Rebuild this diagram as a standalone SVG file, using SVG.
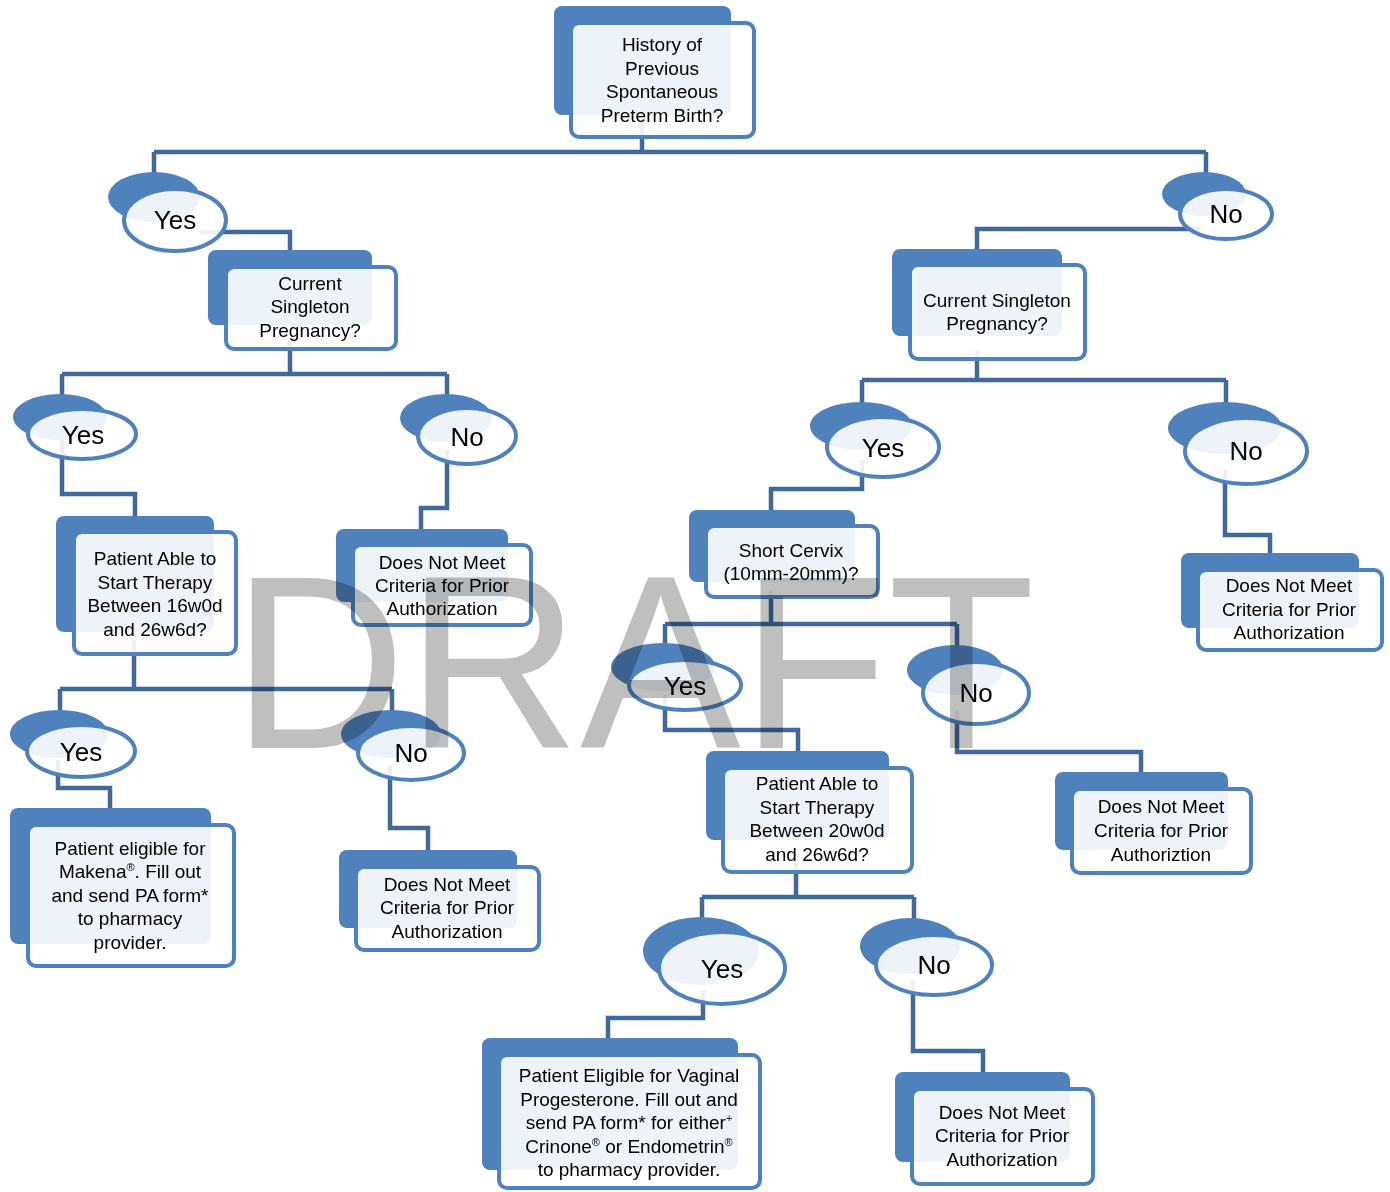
<svg xmlns="http://www.w3.org/2000/svg" width="1390" height="1192" viewBox="0 0 1390 1192">
<style>
.b{fill:#4f81bd}
.f{fill:#ffffff;fill-opacity:0.9;stroke:#4f81bd;stroke-width:4}
.c{fill:none;stroke:#41699c;stroke-width:4.5}
text{font-family:"Liberation Sans",Arial,sans-serif;fill:#000;text-anchor:middle}
.t{font-size:19px}
.e{font-size:26px}
.s{font-size:11px}
.wm{font-size:246px;fill:#bfbfbf;mix-blend-mode:multiply;text-anchor:start}
</style>
<rect width="1390" height="1192" fill="#fff"/>
<g id="connectors">
<path class="c" d="M642 120V152M154 152H1206M154 152V190M1206 152V200"/>
<path class="c" d="M200 232H290V267"/>
<path class="c" d="M1200 229H977V260"/>
<path class="c" d="M290 340V374M62 374H447M62 374V420M447 374V420"/>
<path class="c" d="M62 440V494H135V530"/>
<path class="c" d="M447 450V508H421V540"/>
<path class="c" d="M134 640V689M60 689H392M60 689V740M392 689V740"/>
<path class="c" d="M58 760V788H110V820"/>
<path class="c" d="M390 765V828H428V860"/>
<path class="c" d="M977 350V380M862 380H1226M862 380V430M1226 380V430"/>
<path class="c" d="M862 460V489H771V520"/>
<path class="c" d="M1225 470V535H1270V560"/>
<path class="c" d="M771 590V624M665 624H957M665 624V680M957 624V680"/>
<path class="c" d="M665 695V730H798V760"/>
<path class="c" d="M957 710V752H1141V780"/>
<path class="c" d="M796 860V897M702 897H914M702 897V950M914 897V950"/>
<path class="c" d="M703 990V1018H608V1045"/>
<path class="c" d="M913 980V1051H983V1080"/>
</g>
<g id="n-history"><rect class="b" x="554" y="6" width="177" height="109" rx="8"/><rect class="f" x="571" y="23" width="183" height="114" rx="8"/>
<text class="t" x="662"><tspan x="662" y="51">History of</tspan><tspan x="662" y="75">Previous</tspan><tspan x="662" y="98">Spontaneous</tspan><tspan x="662" y="122">Preterm Birth?</tspan></text></g>
<g id="n-yes1"><ellipse class="b" cx="154" cy="197" rx="46" ry="25"/><ellipse class="f" cx="175" cy="220" rx="51" ry="31"/><text class="e" x="175" y="229">Yes</text></g>
<g id="n-no1"><ellipse class="b" cx="1204" cy="194" rx="42" ry="22"/><ellipse class="f" cx="1226" cy="214" rx="46" ry="25"/><text class="e" x="1226" y="223">No</text></g>
<g id="n-cs-left"><rect class="b" x="208" y="250" width="164" height="75" rx="8"/><rect class="f" x="226" y="267" width="170" height="82" rx="8"/>
<text class="t"><tspan x="310" y="290">Current</tspan><tspan x="310" y="313">Singleton</tspan><tspan x="310" y="337">Pregnancy?</tspan></text></g>
<g id="n-cs-right"><rect class="b" x="892" y="249" width="170" height="87" rx="8"/><rect class="f" x="910" y="265" width="175" height="94" rx="8"/>
<text class="t"><tspan x="997" y="307">Current Singleton</tspan><tspan x="997" y="330">Pregnancy?</tspan></text></g>
<g id="n-yes2"><ellipse class="b" cx="60" cy="417" rx="47" ry="23"/><ellipse class="f" cx="82" cy="434" rx="54" ry="25"/><text class="e" x="83" y="444">Yes</text></g>
<g id="n-no2"><ellipse class="b" cx="446" cy="418" rx="46" ry="24"/><ellipse class="f" cx="467" cy="436" rx="49" ry="28"/><text class="e" x="467" y="446">No</text></g>
<g id="n-yes4"><ellipse class="b" cx="861" cy="426" rx="51" ry="24"/><ellipse class="f" cx="883" cy="447" rx="56" ry="30"/><text class="e" x="883" y="457">Yes</text></g>
<g id="n-no4"><ellipse class="b" cx="1225" cy="428" rx="57" ry="26"/><ellipse class="f" cx="1246" cy="451" rx="61" ry="33"/><text class="e" x="1246" y="460">No</text></g>
<g id="n-pat-left"><rect class="b" x="56" y="516" width="158" height="116" rx="8"/><rect class="f" x="74" y="532" width="162" height="122" rx="8"/>
<text class="t"><tspan x="155" y="565">Patient Able to</tspan><tspan x="155" y="589">Start Therapy</tspan><tspan x="155" y="612">Between 16w0d</tspan><tspan x="155" y="636">and 26w6d?</tspan></text></g>
<g id="n-dnm-left-mid"><rect class="b" x="336" y="529" width="172" height="73" rx="8"/><rect class="f" x="353" y="545" width="178" height="80" rx="8"/>
<text class="t"><tspan x="442" y="569">Does Not Meet</tspan><tspan x="442" y="592">Criteria for Prior</tspan><tspan x="442" y="615">Authorization</tspan></text></g>
<g id="n-short-cervix"><rect class="b" x="689" y="510" width="166" height="72" rx="8"/><rect class="f" x="706" y="526" width="172" height="71" rx="8"/>
<text class="t"><tspan x="791" y="557">Short Cervix</tspan><tspan x="791" y="580">(10mm-20mm)?</tspan></text></g>
<g id="n-dnm-top-right"><rect class="b" x="1181" y="553" width="178" height="75" rx="8"/><rect class="f" x="1198" y="570" width="184" height="80" rx="8"/>
<text class="t"><tspan x="1289" y="592">Does Not Meet</tspan><tspan x="1289" y="616">Criteria for Prior</tspan><tspan x="1289" y="639">Authorization</tspan></text></g>
<g id="n-yes5"><ellipse class="b" cx="663" cy="667" rx="52" ry="24"/><ellipse class="f" cx="685" cy="685" rx="56" ry="25"/><text class="e" x="685" y="695">Yes</text></g>
<g id="n-no5"><ellipse class="b" cx="955" cy="670" rx="48" ry="25"/><ellipse class="f" cx="976" cy="693" rx="53" ry="31"/><text class="e" x="976" y="702">No</text></g>
<g id="n-yes3"><ellipse class="b" cx="59" cy="734" rx="49" ry="24"/><ellipse class="f" cx="81" cy="751" rx="54" ry="26"/><text class="e" x="81" y="761">Yes</text></g>
<g id="n-no3"><ellipse class="b" cx="391" cy="734" rx="50" ry="24"/><ellipse class="f" cx="411" cy="753" rx="53" ry="27"/><text class="e" x="411" y="762">No</text></g>
<g id="n-pat-right"><rect class="b" x="706" y="751" width="183" height="89" rx="8"/><rect class="f" x="723" y="768" width="189" height="104" rx="8"/>
<text class="t"><tspan x="817" y="790">Patient Able to</tspan><tspan x="817" y="814">Start Therapy</tspan><tspan x="817" y="837">Between 20w0d</tspan><tspan x="817" y="861">and 26w6d?</tspan></text></g>
<g id="n-dnm-right-mid"><rect class="b" x="1055" y="772" width="173" height="78" rx="8"/><rect class="f" x="1072" y="789" width="179" height="84" rx="8"/>
<text class="t"><tspan x="1161" y="813">Does Not Meet</tspan><tspan x="1161" y="837">Criteria for Prior</tspan><tspan x="1161" y="861">Authoriztion</tspan></text></g>
<g id="n-makena"><rect class="b" x="10" y="808" width="201" height="136" rx="8"/><rect class="f" x="28" y="825" width="206" height="141" rx="8"/>
<text class="t"><tspan x="130" y="855">Patient eligible for</tspan><tspan x="130" y="878">Makena<tspan class="s" dy="-7">®</tspan><tspan dy="7">. Fill out</tspan></tspan><tspan x="130" y="902">and send PA form*</tspan><tspan x="130" y="925">to pharmacy</tspan><tspan x="130" y="949">provider.</tspan></text></g>
<g id="n-dnm-left-bottom"><rect class="b" x="339" y="850" width="178" height="78" rx="8"/><rect class="f" x="356" y="867" width="183" height="83" rx="8"/>
<text class="t"><tspan x="447" y="891">Does Not Meet</tspan><tspan x="447" y="914">Criteria for Prior</tspan><tspan x="447" y="938">Authorization</tspan></text></g>
<g id="n-yes6"><ellipse class="b" cx="701" cy="951" rx="58" ry="34"/><ellipse class="f" cx="722" cy="968" rx="63" ry="36"/><text class="e" x="722" y="978">Yes</text></g>
<g id="n-no6"><ellipse class="b" cx="910" cy="946" rx="50" ry="28"/><ellipse class="f" cx="934" cy="965" rx="58" ry="30"/><text class="e" x="934" y="974">No</text></g>
<g id="n-vaginal"><rect class="b" x="482" y="1038" width="256" height="132" rx="8"/><rect class="f" x="499" y="1055" width="261" height="133" rx="8"/>
<text class="t"><tspan x="629" y="1082">Patient Eligible for Vaginal</tspan><tspan x="629" y="1106">Progesterone. Fill out and</tspan><tspan x="629" y="1129">send PA form* for either<tspan class="s" dy="-7">+</tspan></tspan><tspan x="629" y="1153">Crinone<tspan class="s" dy="-7">®</tspan><tspan dy="7"> or Endometrin</tspan><tspan class="s" dy="-7">®</tspan></tspan><tspan x="629" y="1176">to pharmacy provider.</tspan></text></g>
<g id="n-dnm-bottom-right"><rect class="b" x="895" y="1072" width="175" height="90" rx="8"/><rect class="f" x="912" y="1089" width="181" height="95" rx="8"/>
<text class="t"><tspan x="1002" y="1119">Does Not Meet</tspan><tspan x="1002" y="1142">Criteria for Prior</tspan><tspan x="1002" y="1166">Authorization</tspan></text></g>
<text class="wm" x="232" y="748" textLength="803" lengthAdjust="spacingAndGlyphs">DRAFT</text>
</svg>
